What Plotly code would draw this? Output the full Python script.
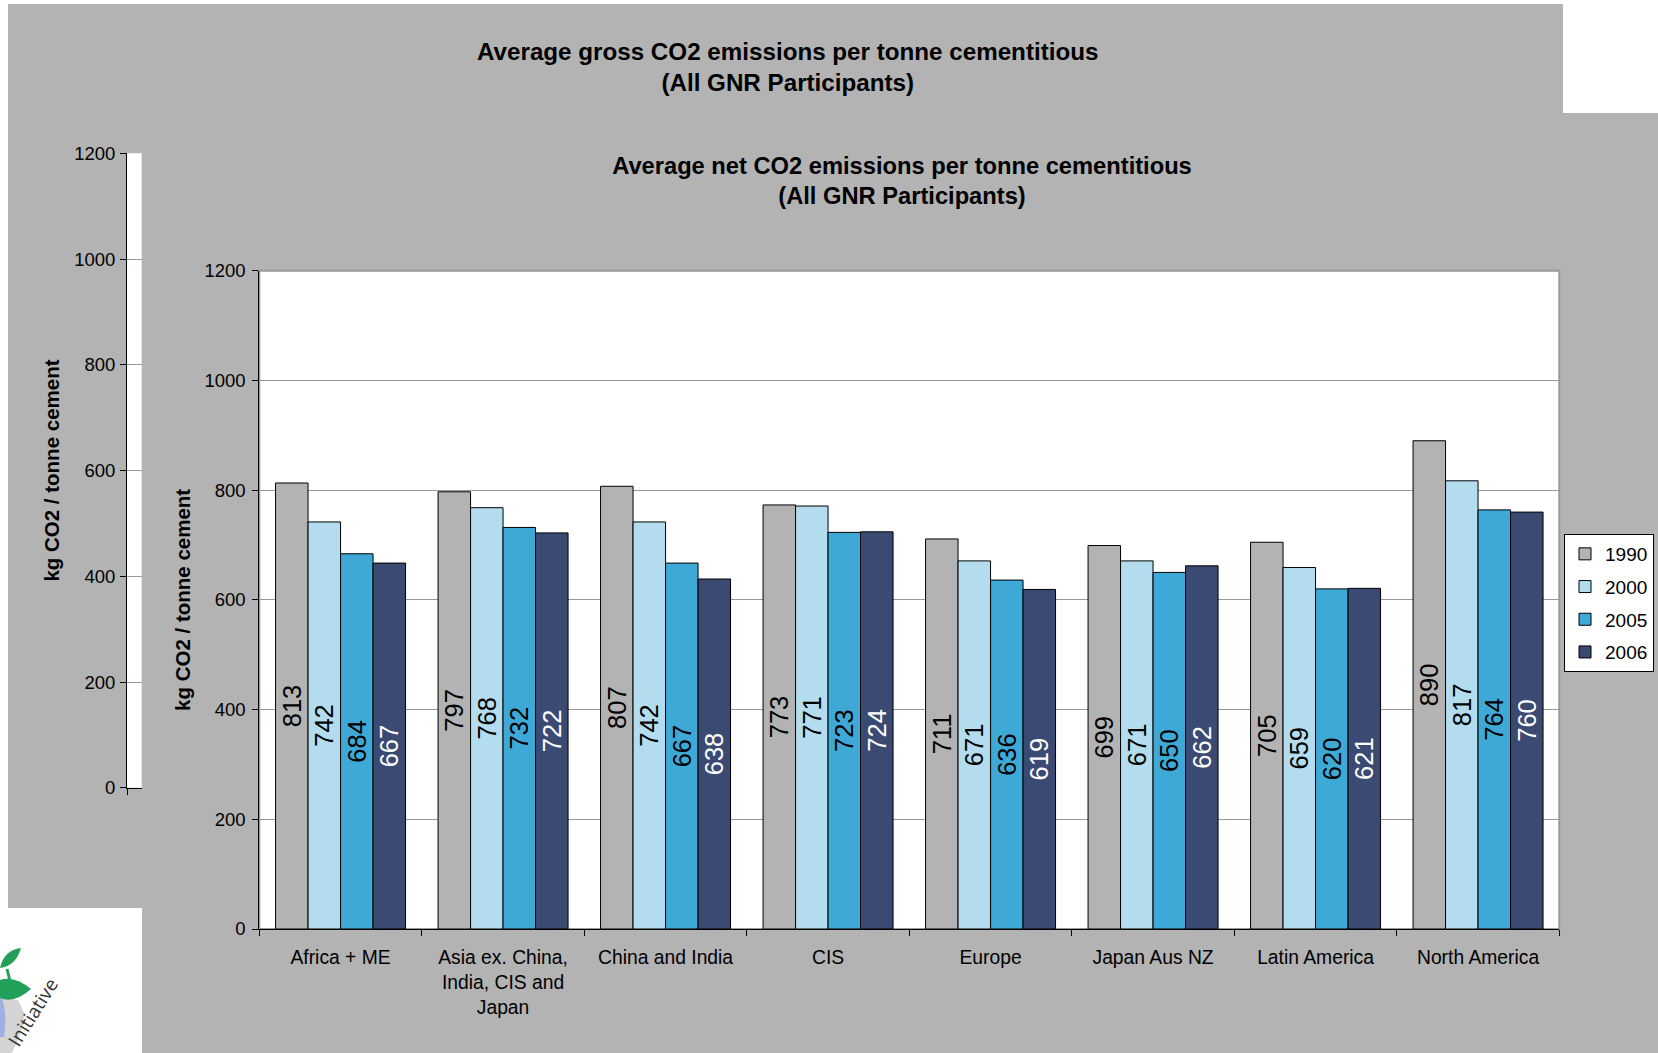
import plotly.graph_objects as go

W, H = 1658, 1053

categories = ["Africa + ME", "Asia ex. China,<br>India, CIS and<br>Japan", "China and India", "CIS",
              "Europe", "Japan Aus NZ", "Latin America", "North America"]
years = ["1990", "2000", "2005", "2006"]
net_1990 = [813, 797, 807, 773, 711, 699, 705, 890]
net_2000 = [742, 768, 742, 771, 671, 671, 659, 817]
net_2005 = [684, 732, 667, 723, 636, 650, 620, 764]
net_2006 = [667, 722, 638, 724, 619, 662, 621, 760]
y_ticks = [0, 200, 400, 600, 800, 1000, 1200]

series = [net_1990, net_2000, net_2005, net_2006]
colors = ["#b3b3b3", "#b3ddee", "#3ea9d7", "#3a4a72"]
text_colors = ["black", "black", "black", "white"]

FONT = "Liberation Sans, Arial, sans-serif"
BG = "#b3b3b3"

def px(x):
    return x / W

def py(y):
    return 1 - y / H

fig = go.Figure()
for yr, vals, col, tcol in zip(years, series, colors, text_colors):
    fig.add_trace(go.Bar(
        x=categories, y=vals, name=yr, legendgroup=yr,
        marker=dict(color=col, line=dict(color="black", width=1)),
        text=[str(v) for v in vals], textposition="inside", insidetextanchor="middle",
        textangle=-90, constraintext="none",
        textfont=dict(size=25.5, color=tcol, family=FONT),
        hoverinfo="skip",
    ))

# empty trace so the (hidden) back chart's axis is drawn
fig.add_trace(go.Scatter(x=[], y=[], xaxis="x2", yaxis="y2", showlegend=False, hoverinfo="skip"))

# front plot geometry (px)
fx0, fx1, fy0, fy1 = 259.3, 1559.3, 270.7, 929.0
# back axis geometry
bx0, bx1, by0, by1 = 127.0, 141.7, 153.3, 787.8

shapes = [
    dict(type="rect", xref="paper", yref="paper", x0=px(8), x1=px(1563), y0=py(908), y1=py(4),
         fillcolor=BG, line=dict(width=0), layer="below"),
    dict(type="rect", xref="paper", yref="paper", x0=px(142), x1=1.0, y0=0.0, y1=py(113),
         fillcolor=BG, line=dict(width=0), layer="below"),
    dict(type="rect", xref="paper", yref="paper", x0=px(bx0), x1=px(bx1), y0=py(by1), y1=py(by0),
         fillcolor="white", line=dict(width=0), layer="below"),
    dict(type="rect", xref="paper", yref="paper", x0=px(fx0), x1=px(fx1), y0=py(fy1), y1=py(fy0),
         fillcolor="white", line=dict(color="#999999", width=2), layer="below"),
    # logo decoration
    dict(type="path", xref="paper", yref="paper",
         path=f"M {px(0)},{py(997)} L {px(18)},{py(1000)} L {px(25)},{py(1015)} L {px(20)},{py(1035)} L {px(12)},{py(1053)} L {px(0)},{py(1053)} Z",
         fillcolor="#d4d4d4", line=dict(width=0), layer="above"),
    dict(type="path", xref="paper", yref="paper",
         path=f"M {px(0)},{py(993)} Q {px(8)},{py(1012)} {px(4)},{py(1037)} L {px(0)},{py(1037)} Z",
         fillcolor="#9fb0e0", line=dict(width=0), layer="above"),
    dict(type="path", xref="paper", yref="paper",
         path=f"M {px(0)},{py(968)} Q {px(4)},{py(950)} {px(21)},{py(948)} Q {px(16)},{py(966)} {px(0)},{py(968)} Z",
         fillcolor="#22a05a", line=dict(width=0), layer="above"),
    dict(type="path", xref="paper", yref="paper",
         path=f"M {px(0)},{py(980)} Q {px(14)},{py(975)} {px(31)},{py(989)} Q {px(14)},{py(1004)} {px(0)},{py(998)} Z",
         fillcolor="#22a05a", line=dict(width=0), layer="above"),
    dict(type="line", xref="paper", yref="paper", x0=px(7), y0=py(969), x1=px(10), y1=py(981),
         line=dict(color="#22a05a", width=3), layer="above"),
]

annotations = [
    dict(text="<b>Average gross CO2 emissions per tonne cementitious<br>(All GNR Participants)</b>",
         xref="paper", yref="paper", x=px(787), y=py(67), xanchor="center", yanchor="middle",
         showarrow=False, font=dict(size=24.2, color="black", family=FONT)),
    dict(text="Initiative", xref="paper", yref="paper", x=px(33), y=py(1012),
         xanchor="center", yanchor="middle", textangle=-58, showarrow=False,
         font=dict(size=19, color="#333333", family="Open Sans, sans-serif")),
]

axis_common = dict(automargin=False)

fig.update_layout(
    width=W, height=H, autosize=False,
    margin=dict(l=0, r=0, t=0, b=0, pad=0, autoexpand=False),
    paper_bgcolor="white", plot_bgcolor="white",
    font=dict(family=FONT, color="black", size=19),
    barmode="group", bargap=0.2, bargroupgap=0,
    title=dict(text="<b>Average net CO2 emissions per tonne cementitious<br>(All GNR Participants)</b>",
               x=px(902), y=py(173.5), xanchor="center", yanchor="middle", xref="paper", yref="paper",
               automargin=False, font=dict(size=23.7, color="black", family=FONT)),
    xaxis=dict(domain=[px(fx0), px(fx1)], anchor="y", type="category",
               tickson="boundaries", ticks="outside", ticklen=6, tickcolor="black",
               showline=True, linecolor="black", linewidth=1, showgrid=False,
               tickfont=dict(size=19.3, family=FONT), ticklabelstandoff=11, **axis_common),
    yaxis=dict(domain=[py(fy1), py(fy0)], anchor="x", range=[0, 1200], tickvals=y_ticks,
               ticks="outside", ticklen=6, tickcolor="black",
               showline=True, linecolor="black", linewidth=1,
               showgrid=True, gridcolor="#999999", gridwidth=1, zeroline=False,
               tickfont=dict(size=18.5, family=FONT), ticklabelstandoff=3,
               title=dict(text="<b>kg CO2 / tonne cement</b>", font=dict(size=20.5, family=FONT), standoff=8),
               **axis_common),
    xaxis2=dict(domain=[px(bx0), px(bx1)], anchor="y2", range=[0, 1],
                tickvals=[0], ticks="outside", ticklen=6, tickcolor="black", showticklabels=False,
                showline=True, linecolor="black", linewidth=1, showgrid=False, zeroline=False,
                **axis_common),
    yaxis2=dict(domain=[py(by1), py(by0)], anchor="x2", range=[0, 1200], tickvals=y_ticks,
                ticks="outside", ticklen=6, tickcolor="black",
                showline=True, linecolor="black", linewidth=1,
                showgrid=True, gridcolor="#999999", gridwidth=1, zeroline=False,
                tickfont=dict(size=18.5, family=FONT), ticklabelstandoff=1,
                title=dict(text="<b>kg CO2 / tonne cement</b>", font=dict(size=20.5, family=FONT), standoff=8),
                **axis_common),
    legend=dict(x=px(1654), xanchor="right", y=py(534), yanchor="top",
                traceorder="grouped", tracegroupgap=5,
                bgcolor="white", bordercolor="black", borderwidth=1,
                font=dict(size=19, family=FONT)),
    shapes=shapes, annotations=annotations,
)

fig.write_html("out.html")
